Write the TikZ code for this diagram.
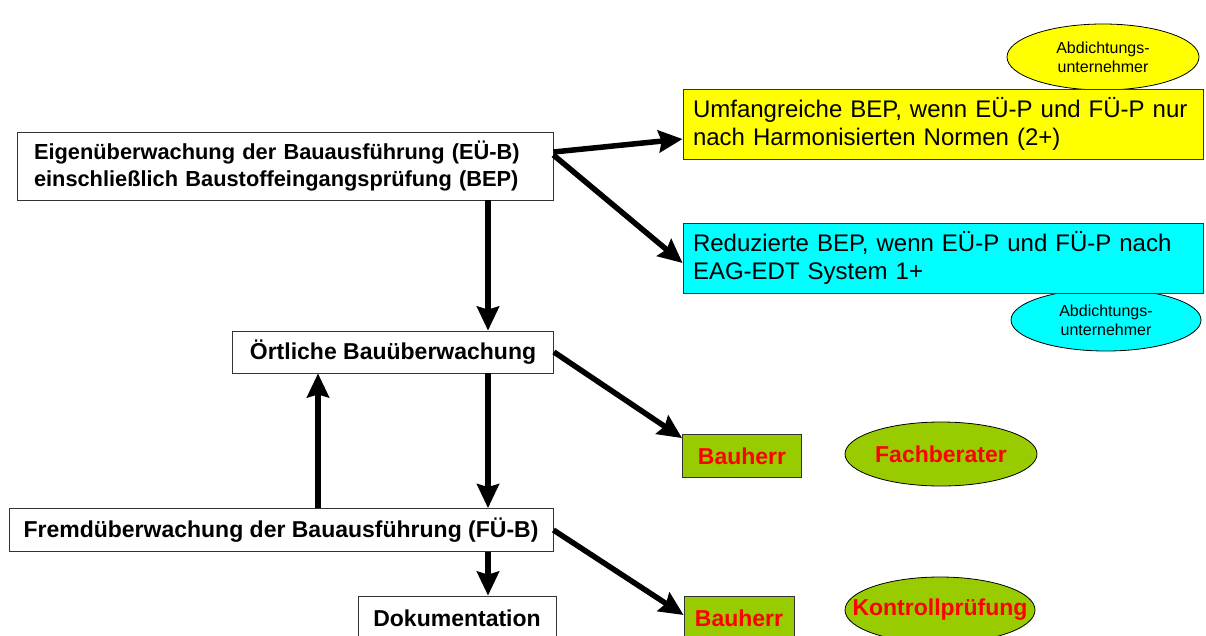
\documentclass[tikz,border=0pt]{standalone}
\usepackage{fontspec}
\setmainfont{Liberation Sans}
\usepackage{tikz}
\usetikzlibrary{shapes,arrows.meta}

\definecolor{gelb}{RGB}{255,255,0}
\definecolor{tuerkis}{RGB}{0,255,255}
\definecolor{gruen}{RGB}{153,204,0}
\definecolor{rot}{RGB}{255,0,0}

\begin{document}
\begin{tikzpicture}[x=1pt,y=-1pt]
    \tikzstyle{dedge} = [line width=5.5pt,->,>={Stealth[length=24pt,width=22pt,inset=3pt]},draw=black]
    \tikzstyle{box}=[
      rectangle,
      draw=black!80,
      thick,
      fill=white,
      inner sep=0pt,
      align=left,
      font=\fontsize{23}{28}\selectfont\bfseries,
    ]
    \tikzstyle{infobox}=[
      box,
      inner xsep=10pt,
      text width=500pt,
      font=\fontsize{24}{28}\selectfont,
    ]
    \tikzstyle{party}=[
      box,
      fill=gruen,
      text=rot,
    ]
    \tikzstyle{oval}=[
      ellipse,
      draw=black,
      thick,
      inner sep=0pt,
      align=center,
    ]
    \tikzstyle{smalloval}=[
      oval,
      font=\fontsize{16}{19}\selectfont,
    ]
    \tikzstyle{redoval}=[
      oval,
      fill=gruen,
      text=rot,
      font=\fontsize{23}{28}\selectfont\bfseries,
    ]

    \useasboundingbox (0,0) rectangle (1206,635);
    \clip (0,0) rectangle (1206,635);

    {
      \node[smalloval, fill=gelb, inner xsep=-12pt, minimum width=192, minimum height=66] (adu1) at (1103,57) {Abdichtungs-\\unternehmer};
      \node[smalloval, fill=tuerkis, inner xsep=-12pt, minimum width=190, minimum height=62] (adu2) at (1106,320) {Abdichtungs-\\unternehmer};
    }

    {
      \node[box, inner xsep=17pt, text width=502pt, minimum height=68,
            font=\fontsize{21.8}{27}\selectfont\bfseries] (eub) at (285,166)
        {Eigenüberwachung der Bauausführung (EÜ-B)\\einschließlich Baustoffeingangsprüfung (BEP)};
      \node[infobox, fill=gelb, minimum height=70] (umf) at (943,124)
        {Umfangreiche BEP, wenn EÜ-P und FÜ-P nur\\nach Harmonisierten Normen (2+)};
      \node[infobox, fill=tuerkis, minimum height=70] (red) at (943,258)
        {Reduzierte BEP, wenn EÜ-P und FÜ-P nach\\EAG-EDT System 1+};

      \node[box, minimum width=321, minimum height=42] (oebw) at (393,352) {Örtliche Bauüberwachung};
      \node[party, minimum width=119, minimum height=43] (bh1) at (742,456) {Bauherr};
      \node[redoval, minimum width=192, minimum height=64] (fb) at (941,454) {Fachberater};

      \node[box, minimum width=544, minimum height=43] (fueb) at (281,530) {Fremdüberwachung der Bauausführung (FÜ-B)};
      \node[box, minimum width=198, minimum height=44] (doku) at (457,618) {Dokumentation};
      \node[party, minimum width=110, minimum height=44] (bh2) at (739,618) {Bauherr};
      \node[redoval, inner xsep=-21pt, minimum width=190, minimum height=66] (kp) at (940,610) {Kontrollprüfung};

      \coordinate (col) at (488,0);
      \coordinate (col2) at (318,0);
    }

    {
      \draw[dedge] ([yshift=14pt]eub.east)--([yshift=-15pt]umf.west);
      \draw[dedge] ([yshift=11pt]eub.east)--([yshift=-5pt]red.west);
      \draw[dedge] (eub.south -| col)--(oebw.north -| col);

      \draw[dedge] (oebw.east)--([yshift=-4pt]bh1.north west);
      \draw[dedge] (oebw.south -| col)--(fueb.north -| col);
      \draw[dedge] (fueb.north -| col2)--(oebw.south -| col2);

      \draw[dedge] (fueb.south -| col)--(doku.north -| col);
      \draw[dedge] (fueb.east)--([yshift=3pt]bh2.west);
    }
\end{tikzpicture}
\end{document}
